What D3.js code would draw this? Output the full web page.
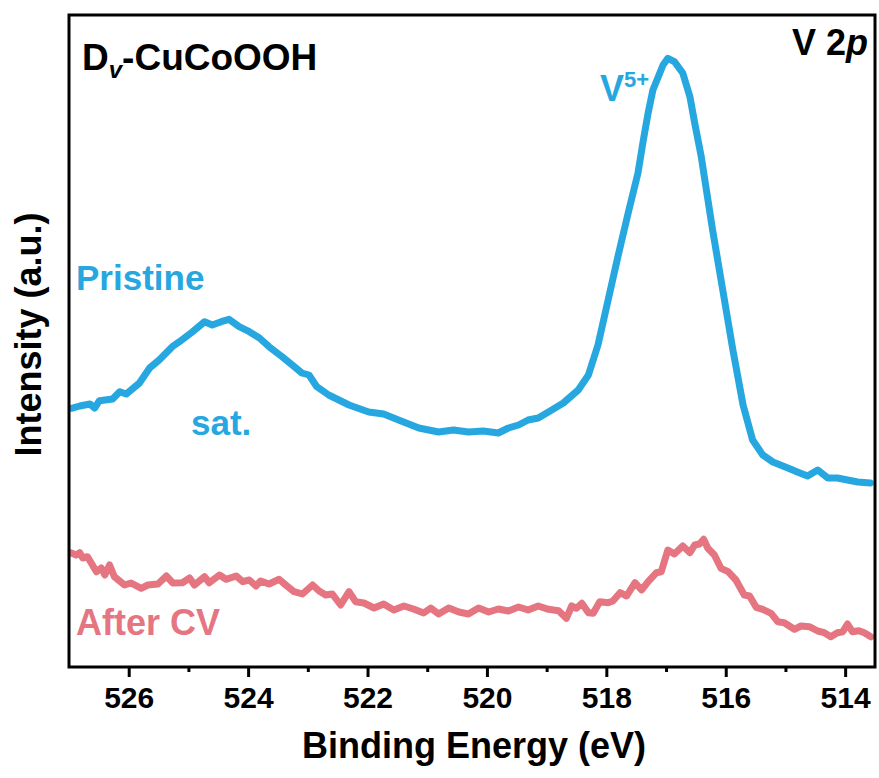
<!DOCTYPE html>
<html>
<head>
<meta charset="utf-8">
<script src="https://cdn.jsdelivr.net/npm/d3@7/dist/d3.min.js"></script>
<style>
  html, body { margin: 0; padding: 0; background: #fff; }
  text { font-family: "Liberation Sans", Arial, sans-serif; font-weight: bold; }
</style>
</head>
<body>
<svg id="chart" width="879" height="778"></svg>
<script>
// V 2p XPS spectra (binding energy in eV, intensity in arbitrary units)
const pristineBE = [526.96,526.82,526.65,526.57,526.49,526.27,526.15,526.04,525.82,525.65,525.49,525.27,525.15,524.93,524.73,524.60,524.45,524.32,524.15,523.98,523.81,523.65,523.43,523.26,523.10,522.98,522.85,522.65,522.31,521.98,521.73,521.48,521.14,520.81,520.56,520.31,520.06,519.81,519.64,519.47,519.31,519.14,518.97,518.72,518.47,518.30,518.14,517.97,517.80,517.63,517.47,517.38,517.30,517.22,517.13,517.05,516.97,516.86,516.72,516.60,516.52,516.41,516.35,516.22,516.05,515.88,515.71,515.55,515.38,515.21,514.96,514.80,514.63,514.46,514.29,514.13,513.96,513.79,513.58];
const pristineI = [258.7,261,263,259,266.3,268,275.3,273,284,299,307,320.3,325.3,335.3,345.3,342,345.3,347.7,340.3,335.3,329,320.3,310.3,302,294,292,280.3,272,262,255,253,247,239,235,237,235,236,234,239,242,247,249,255,264,277,292,322,367,412,455,494,527,554,577,590.3,602,608.7,605.3,594,570.3,544,510.3,487,437,377,317,262,227,212,205,199,195,191,197,189,189,187,185,184];

const afterCVBE = [526.96,526.88,526.82,526.77,526.69,526.54,526.46,526.40,526.32,526.24,526.07,525.96,525.79,525.68,525.51,525.37,525.26,525.10,524.98,524.90,524.73,524.65,524.48,524.37,524.20,524.09,523.98,523.87,523.79,523.65,523.48,523.37,523.23,523.09,522.92,522.81,522.70,522.59,522.45,522.31,522.20,522.06,521.89,521.73,521.56,521.39,521.23,521.06,520.94,520.81,520.64,520.47,520.31,520.14,519.97,519.81,519.64,519.47,519.31,519.14,518.97,518.80,518.67,518.58,518.50,518.41,518.30,518.22,518.11,517.97,517.89,517.77,517.66,517.52,517.41,517.30,517.16,517.08,516.97,516.86,516.72,516.60,516.52,516.44,516.37,516.30,516.19,516.08,515.96,515.83,515.69,515.60,515.49,515.38,515.24,515.13,515.02,514.85,514.74,514.60,514.46,514.35,514.24,514.13,514.04,513.96,513.88,513.77,513.68,513.57];
const afterCVI = [114,112,114.3,109,110.3,95.3,99,92,102,90.3,82,84,78.7,82,83,91,84,84.3,89,82,90.3,84.3,92,87.7,91,85.3,87,81,86,83,87.7,82,75.3,73,82,76,72,73,62,75.3,65.3,64,59,63,57,61,58,54,59,53,59,55,53,59,55,58,56,60,57,61,57.7,56.3,48.7,61,58.7,63.7,54.3,53.7,65.3,64.3,66,74.3,71,84.3,77,85.3,94.3,95.3,117,113,121,114.3,122,123,127.7,118.7,112,98.7,95.3,87,72,71,59.7,57.7,53.7,45.3,44.3,37.7,41,40.3,36,34.3,30.3,34.3,35.3,43,35.3,36.3,34.3,30.3];

const majorTicks = [526, 524, 522, 520, 518, 516, 514];
const minorTicks = [525, 523, 521, 519, 517, 515];
const xDomain = [527, 513.5];
const yDomain = [0, 652];

const blue = "#27a7e0";
const pink = "#e57681";

const svg = d3.select("#chart");
const plot = { left: 69, right: 875, top: 15, bottom: 667 };

const x = d3.scaleLinear().domain(xDomain).range([plot.left, plot.right]);
const y = d3.scaleLinear().domain(yDomain).range([plot.bottom, plot.top]);

svg.append("defs").append("clipPath").attr("id", "plotClip")
  .append("rect")
  .attr("x", plot.left).attr("y", plot.top)
  .attr("width", plot.right - plot.left).attr("height", plot.bottom - plot.top);

const line = d3.line().x(d => x(d[0])).y(d => y(d[1])).curve(d3.curveLinear);

const series = [
  { be: pristineBE, val: pristineI, color: blue },
  { be: afterCVBE, val: afterCVI, color: pink }
];

const lines = svg.append("g").attr("clip-path", "url(#plotClip)");
series.forEach(s => {
  lines.append("path")
    .datum(s.be.map((b, i) => [b, s.val[i]]))
    .attr("d", line)
    .attr("fill", "none")
    .attr("stroke", s.color)
    .attr("stroke-width", 7)
    .attr("stroke-linejoin", "round")
    .attr("stroke-linecap", "round");
});

// bottom axis: major ticks with labels, minor ticks without
const axisMajor = d3.axisBottom(x).tickValues(majorTicks).tickSize(10).tickSizeOuter(0).tickPadding(10).tickFormat(d3.format("d"));
const axisMinor = d3.axisBottom(x).tickValues(minorTicks).tickSize(5).tickSizeOuter(0).tickFormat("");

const gMinor = svg.append("g").attr("transform", `translate(0,${plot.bottom})`).call(axisMinor);
const gMajor = svg.append("g").attr("transform", `translate(0,${plot.bottom})`).call(axisMajor);
[gMinor, gMajor].forEach(g => {
  g.select(".domain").remove();
  g.selectAll(".tick line").attr("stroke", "#000").attr("stroke-width", 3);
});
gMajor.selectAll(".tick text")
  .attr("fill", "#000")
  .style("font-size", "30px")
  .style("font-family", "'Liberation Sans', Arial, sans-serif")
  .style("font-weight", "bold");

// frame
svg.append("rect")
  .attr("x", plot.left).attr("y", plot.top)
  .attr("width", plot.right - plot.left).attr("height", plot.bottom - plot.top)
  .attr("fill", "none").attr("stroke", "#000").attr("stroke-width", 3);

// axis titles
svg.append("text")
  .attr("x", (plot.left + plot.right) / 2 + 2).attr("y", 758)
  .attr("text-anchor", "middle").style("font-size", "36px")
  .text("Binding Energy (eV)");

svg.append("text")
  .attr("transform", `translate(41,${(212 + 457) / 2}) rotate(-90)`)
  .attr("text-anchor", "middle").style("font-size", "36px")
  .text("Intensity (a.u.)");

// annotations
const title = svg.append("text").attr("x", 82).attr("y", 70).style("font-size", "37px");
title.append("tspan").text("D");
title.append("tspan").attr("dy", 8).style("font-size", "24px").style("font-style", "italic").text("v");
title.append("tspan").attr("dy", -8).text("-CuCoOOH");

const core = svg.append("text").attr("x", 868).attr("y", 55).attr("text-anchor", "end").style("font-size", "36px");
core.append("tspan").text("V 2");
core.append("tspan").style("font-style", "italic").text("p");

const v5 = svg.append("text").attr("x", 600).attr("y", 101).attr("fill", blue).style("font-size", "36px");
v5.append("tspan").text("V");
v5.append("tspan").attr("dy", -14).style("font-size", "22px").text("5+");

svg.append("text").attr("x", 76).attr("y", 290).attr("fill", blue).style("font-size", "35px").text("Pristine");
svg.append("text").attr("x", 191).attr("y", 435).attr("fill", blue).style("font-size", "35px").text("sat.");
svg.append("text").attr("x", 76).attr("y", 635).attr("fill", pink).style("font-size", "36px").text("After CV");
</script>
</body>
</html>
